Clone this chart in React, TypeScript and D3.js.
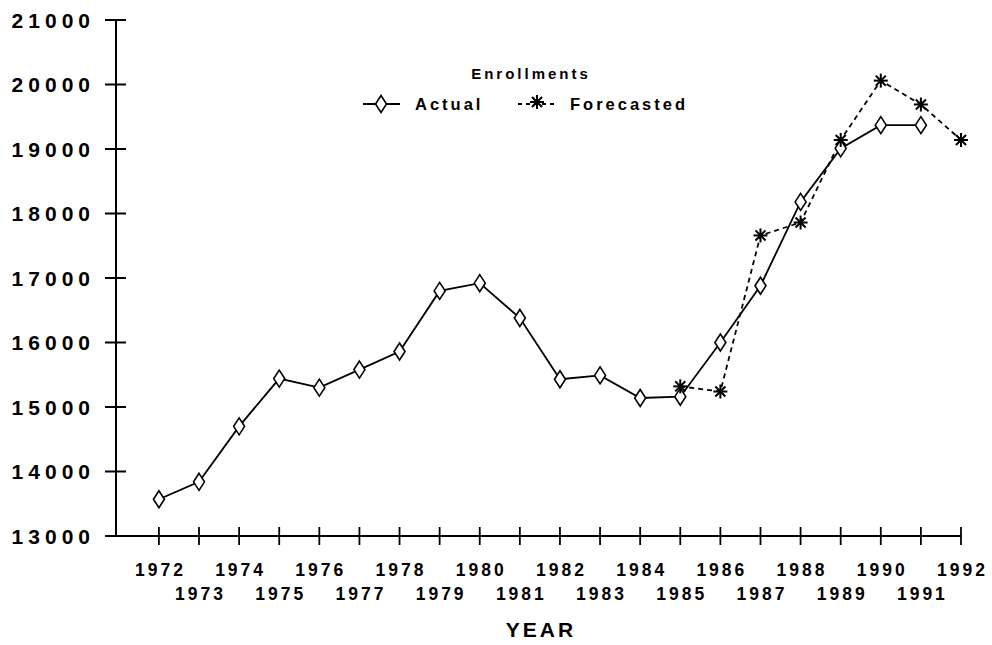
import React from "react";
import * as d3 from "d3";

const years = d3.range(1972, 1993);
const actualYears = [1972, 1973, 1974, 1975, 1976, 1977, 1978, 1979, 1980, 1981, 1982, 1983, 1984, 1985, 1986, 1987, 1988, 1989, 1990, 1991];
const actualValues = [13570, 13840, 14700, 15440, 15300, 15580, 15860, 16800, 16920, 16380, 15430, 15490, 15140, 15160, 16000, 16880, 18180, 19010, 19370, 19370];
const forecastYears = [1985, 1986, 1987, 1988, 1989, 1990, 1991, 1992];
const forecastValues = [15320, 15240, 17660, 17860, 19140, 20060, 19690, 19140];
const yTicks = [13000, 14000, 15000, 16000, 17000, 18000, 19000, 20000, 21000];

const FONT = "'Liberation Sans', Arial, Helvetica, sans-serif";

const x0 = 1970.93;
const x = d3.scaleLinear().domain([x0, 1992]).range([116, 961]);
const y = d3.scaleLinear().domain([13000, 21000]).range([536, 20]);

const diamond = "M0,-8.5L5.5,0L0,8.5L-5.5,0Z";

function Star({ cx, cy }: { cx: number; cy: number }) {
  const r = 7;
  const d = r * 0.72;
  return (
    <g transform={`translate(${cx},${cy})`} stroke="#000" strokeWidth={2}>
      <line x1={0} y1={-r} x2={0} y2={r} />
      <line x1={-r} y1={0} x2={r} y2={0} />
      <line x1={-d} y1={-d} x2={d} y2={d} />
      <line x1={-d} y1={d} x2={d} y2={-d} />
    </g>
  );
}

export default function App() {
  const actualLine = d3
    .line<number>()
    .x((_, i) => x(actualYears[i]))
    .y((v) => y(v))(actualValues) as string;
  const forecastLine = d3
    .line<number>()
    .x((_, i) => x(forecastYears[i]))
    .y((v) => y(v))(forecastValues) as string;

  return (
    <svg
      width={992}
      height={645}
      style={{ position: "absolute", left: 0, top: 0, background: "#fff" }}
      fontFamily={FONT}
      fontWeight="bold"
    >
      <rect width={992} height={645} fill="#fff" />
      {/* Y axis */}
      <line x1={x(x0)} y1={y(21000)} x2={x(x0)} y2={y(13000)} stroke="#000" strokeWidth={2} />
      {yTicks.map((t) => (
        <g key={t}>
          <line x1={x(x0) - 11} x2={x(x0) + 10} y1={y(t)} y2={y(t)} stroke="#000" strokeWidth={2} />
          <text
            x={95}
            y={y(t)}
            dy="0.36em"
            textAnchor="end"
            fontSize={21}
            letterSpacing={5}
            fill="#000"
          >
            {t}
          </text>
        </g>
      ))}
      {/* X axis */}
      <line x1={x(x0)} y1={y(13000)} x2={x(1992)} y2={y(13000)} stroke="#000" strokeWidth={2} />
      {years.map((yr, i) => (
        <g key={yr}>
          <line x1={x(yr)} x2={x(yr)} y1={y(13000) - 9} y2={y(13000) + 9} stroke="#000" strokeWidth={1.8} />
          <text
            x={x(yr) + 1.5}
            y={i % 2 === 0 ? 576 : 600}
            textAnchor="middle"
            fontSize={17.5}
            letterSpacing={3}
            fill="#000"
          >
            {yr}
          </text>
        </g>
      ))}
      <text x={541} y={637} textAnchor="middle" fontSize={21} letterSpacing={3} fill="#000">
        YEAR
      </text>

      {/* Series */}
      <path d={forecastLine} fill="none" stroke="#000" strokeWidth={1.8} strokeDasharray="5,4" />
      <path d={actualLine} fill="none" stroke="#000" strokeWidth={1.8} />
      {actualValues.map((v, i) => (
        <path
          key={"a" + i}
          d={diamond}
          transform={`translate(${x(actualYears[i])},${y(v)})`}
          fill="#fff"
          stroke="#000"
          strokeWidth={1.6}
        />
      ))}
      {forecastValues.map((v, i) => (
        <Star key={"f" + i} cx={x(forecastYears[i])} cy={y(v)} />
      ))}

      {/* Legend */}
      <text x={531} y={79} textAnchor="middle" fontSize={15} letterSpacing={3} fill="#000">
        Enrollments
      </text>
      <line x1={363} x2={400} y1={104} y2={104} stroke="#000" strokeWidth={1.8} />
      <path d={diamond} transform="translate(381,104)" fill="#fff" stroke="#000" strokeWidth={1.6} />
      <text x={415} y={110} fontSize={16.5} letterSpacing={3} fill="#000">
        Actual
      </text>
      <line x1={518} x2={557} y1={104} y2={104} stroke="#000" strokeWidth={1.8} strokeDasharray="4,4" />
      <Star cx={537} cy={102} />
      <text x={570} y={110} fontSize={16.5} letterSpacing={3} fill="#000">
        Forecasted
      </text>
    </svg>
  );
}
